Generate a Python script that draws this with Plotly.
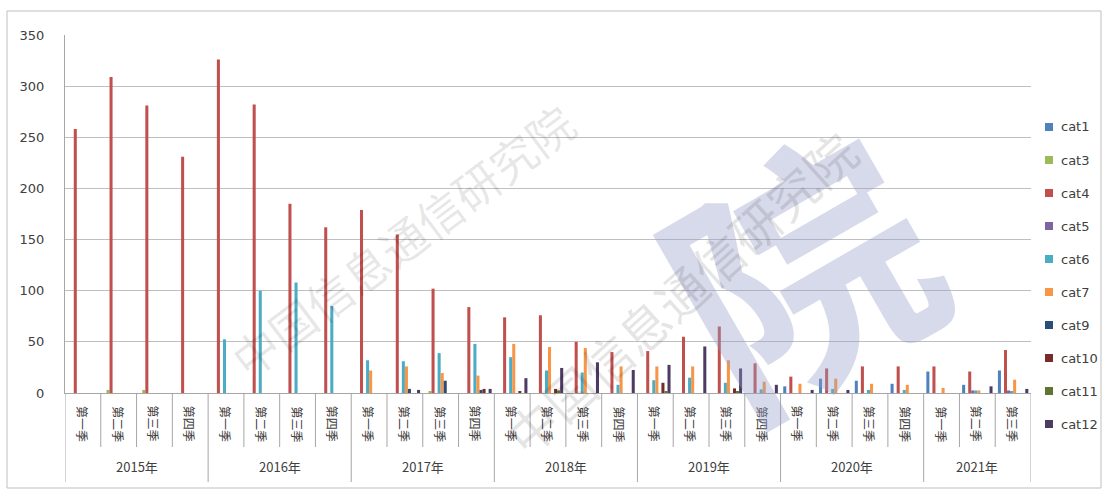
import plotly.graph_objects as go

years = ["2015年", "2016年", "2017年", "2018年", "2019年", "2020年", "2021年"]
quarters_per_year = [4, 4, 4, 4, 4, 4, 3]
quarter_names = ["第一季", "第二季", "第三季", "第四季"]

series_names = ["cat1", "cat3", "cat4", "cat5", "cat6", "cat7", "cat9", "cat10", "cat11", "cat12"]
series_colors = ["#4F81BD", "#9BBB59", "#C0504D", "#8064A2", "#4BACC6",
                 "#F79646", "#2C4D75", "#772C2A", "#5F7530", "#4D3B62"]

cat1 = [0, 0, 0, 0, 0, 0, 0, 0, 0, 0, 0, 0, 0, 0, 0, 0, 0, 0, 0, 0, 6.5, 14, 12, 9, 21, 8, 22]
cat3 = [0, 3, 3, 0, 0, 0, 0, 0, 0, 0, 1.5, 0, 0, 0, 0, 0, 0, 0, 0, 0, 0, 0, 0, 0, 0, 0, 0]
cat4 = [258, 309, 281, 231, 326, 282, 185, 162, 179, 155, 102, 84, 74, 76, 50, 40, 41, 55, 65, 29, 16, 24, 26, 26, 26, 21, 42]
cat5 = [0, 0, 0, 0, 0, 0, 0, 0, 0, 0, 0, 0, 0, 0, 0, 0, 0, 0, 0, 0, 0, 0, 0, 0, 0, 2.5, 2.5]
cat6 = [0, 0, 0, 0, 52.5, 100, 108, 85, 32, 31, 39, 48, 35, 22, 20, 8, 12.5, 15, 10, 3.5, 0, 4, 3, 3, 0, 2.5, 1.5]
cat7 = [0, 0, 0, 0, 0, 0, 0, 0, 22, 26, 19.5, 17, 48, 45, 44, 26, 26, 26, 32, 11, 9, 14, 9, 8, 5, 2.5, 13]
cat9 = [0, 0, 0, 0, 0, 0, 0, 0, 0, 4, 12, 3, 0, 0, 0, 0, 0, 0, 0, 0, 0, 0, 0, 0, 0, 0, 0]
cat10 = [0, 0, 0, 0, 0, 0, 0, 0, 0, 0, 0, 4, 1.5, 4, 0, 0, 10, 0, 4.5, 0, 0, 0, 0, 0, 0, 0, 0]
cat11 = [0, 0, 0, 0, 0, 0, 0, 0, 0, 0, 0, 0, 0, 2.5, 0, 0, 1, 0, 1.5, 0, 0, 0, 0, 0, 0, 0, 0]
cat12 = [0, 0, 0, 0, 0, 0, 0, 0, 0, 3, 0, 4, 14.5, 24.5, 30, 22.5, 27.5, 45.5, 24, 8, 3, 3, 0, 0, 0, 6.5, 4]

series_values = [cat1, cat3, cat4, cat5, cat6, cat7, cat9, cat10, cat11, cat12]

qlabels = []
for n in quarters_per_year:
    for q in range(n):
        qlabels.append(quarter_names[q])
n_cat = len(qlabels)
xpos = list(range(n_cat))

fig = go.Figure()
for name, color, vals in zip(series_names, series_colors, series_values):
    fig.add_trace(go.Bar(x=xpos, y=vals, name=name, marker=dict(color=color, line=dict(width=0)),
                         showlegend=False))

W, H = 1107, 490
ML, MR, MT, MB = 65, 76, 35, 97
PW, PH = W - ML - MR, H - MT - MB


def px(x):
    return (x - ML) / PW


def py(y):
    return (H - MB - y) / PH


shapes = []
annotations = []
line_col = "#A6A6A6"
acc = 0
year_bounds = [-0.5]
for n in quarters_per_year:
    acc += n
    year_bounds.append(acc - 0.5)
for i in range(n_cat + 1):
    b = i - 0.5
    y1 = py(482) if b in year_bounds else py(447)
    shapes.append(dict(type="line", xref="x", yref="paper", x0=b, x1=b, y0=0, y1=y1,
                       line=dict(color=line_col, width=1)))

for i, lab in enumerate(qlabels):
    annotations.append(dict(x=i, y=py(424), xref="x", yref="paper", text=lab, showarrow=False,
                            xanchor="center", yanchor="middle", textangle=90,
                            font=dict(size=12, color="#404040", family="Noto Sans CJK SC")))

acc = 0
for yr, n in zip(years, quarters_per_year):
    center = acc + (n - 1) / 2
    annotations.append(dict(x=center, y=py(466), xref="x", yref="paper", text=yr, showarrow=False,
                            xanchor="center", yanchor="middle",
                            font=dict(size=13, color="#404040", family="Noto Sans CJK SC")))
    acc += n

# manual legend (right side)
for k, (name, color) in enumerate(zip(series_names, series_colors)):
    yc = 127 + 33 * k
    shapes.append(dict(type="rect", xref="paper", yref="paper", x0=px(1045), x1=px(1053),
                       y0=py(yc + 4), y1=py(yc - 4), fillcolor=color, line=dict(width=0)))
    annotations.append(dict(x=px(1059), y=py(yc), xref="paper", yref="paper", text=name,
                            showarrow=False, xanchor="left", yanchor="middle",
                            font=dict(size=13, color="#404040", family="DejaVu Sans")))

shapes.append(dict(type="rect", xref="paper", yref="paper", x0=px(7), x1=px(1101), y0=py(488), y1=py(11),
                   line=dict(color="#BFBFBF", width=1), layer="below"))

# watermark
wm = "中国信息通信研究院"
annotations.append(dict(x=px(795), y=py(262), xref="paper", yref="paper", text="院", showarrow=False,
                        xanchor="center", yanchor="middle", textangle=-30,
                        font=dict(size=255, color="rgba(150,158,200,0.38)",
                                  family="Noto Sans CJK SC", weight="bold")))
annotations.append(dict(x=px(402), y=py(240), xref="paper", yref="paper", text=wm, showarrow=False,
                        xanchor="center", yanchor="middle", textangle=-37,
                        font=dict(size=46, color="rgba(0,0,0,0.10)", family="Noto Sans CJK SC")))
annotations.append(dict(x=px(680), y=py(292), xref="paper", yref="paper", text=wm, showarrow=False,
                        xanchor="center", yanchor="middle", textangle=-42,
                        font=dict(size=50, color="rgba(0,0,0,0.10)", family="Noto Sans CJK SC")))

fig.update_layout(
    width=W, height=H,
    margin=dict(l=ML, r=MR, t=MT, b=MB, autoexpand=False),
    paper_bgcolor="white", plot_bgcolor="white",
    barmode="group", bargap=0.15, bargroupgap=0,
    font=dict(family="DejaVu Sans", size=13, color="#404040"),
    xaxis=dict(range=[-0.5, n_cat - 0.5], showticklabels=False, showgrid=False, zeroline=False,
               showline=True, linecolor=line_col, linewidth=1, ticks=""),
    yaxis=dict(range=[0, 350], dtick=50, showgrid=True, gridcolor="#BFBFBF", gridwidth=1,
               zeroline=False, showline=True, linecolor=line_col, linewidth=1, ticks="",
               tickfont=dict(size=13, color="#404040"), ticklabelstandoff=17),
    shapes=shapes, annotations=annotations, showlegend=False,
)

fig.write_html("out.html", config={"displayModeBar": False},
               post_script="document.body.style.margin='0';document.body.style.overflow='hidden';")
